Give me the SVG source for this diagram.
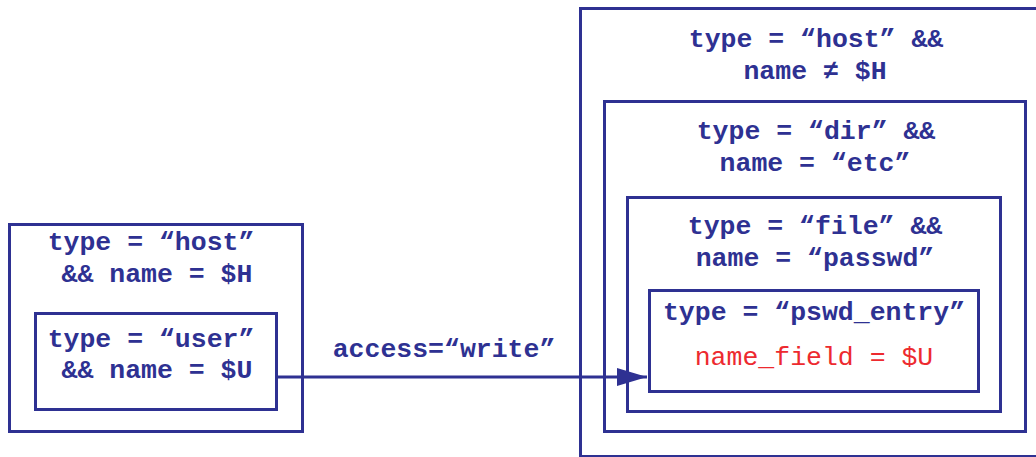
<svg xmlns="http://www.w3.org/2000/svg" width="1036" height="457" viewBox="0 0 1036 457">
  <style>
    .box { fill: none; stroke: #2e3192; stroke-width: 3; }
    .lbl { font-family: "Liberation Mono", "Courier New", monospace; font-size: 26.5px; font-weight: bold; fill: #2e3192; text-anchor: middle; }
    .red { font-family: "Liberation Mono", "Courier New", monospace; font-size: 26.5px; fill: #ed2a2f; text-anchor: middle; }
    .edge { fill: none; stroke: #2e3192; stroke-width: 3; }
  </style>
  <defs>
    <marker id="arrow" markerUnits="userSpaceOnUse" markerWidth="32" markerHeight="20" refX="30" refY="9" orient="auto">
      <path d="M0,0 L30,9 L0,18 Z" fill="#2e3192"/>
    </marker>
  </defs>
  <rect width="1036" height="457" fill="#ffffff"/>

  <!-- host holding the user -->
  <g id="host-left">
    <rect class="box" x="9.5" y="224.5" width="293" height="207"/>
    <text class="lbl" x="151" y="250">type = “host”</text>
    <text class="lbl" x="157" y="282">&amp;&amp; name = $H</text>
  </g>
  <g id="user">
    <rect class="box" x="35.5" y="313.5" width="241" height="96"/>
    <text class="lbl" x="151" y="347">type = “user”</text>
    <text class="lbl" x="157" y="378">&amp;&amp; name = $U</text>
  </g>

  <!-- remote host, nested down to the password entry -->
  <g id="host-right">
    <rect class="box" x="580.5" y="8.5" width="470" height="448"/>
    <text class="lbl" x="816" y="47">type = “host” &amp;&amp;</text>
    <text class="lbl" x="815" y="79">name ≠ $H</text>
  </g>
  <g id="dir">
    <rect class="box" x="604.5" y="101.5" width="421" height="330"/>
    <text class="lbl" x="816" y="139">type = “dir” &amp;&amp;</text>
    <text class="lbl" x="815" y="171">name = “etc”</text>
  </g>
  <g id="file">
    <rect class="box" x="627.5" y="197.5" width="373" height="214"/>
    <text class="lbl" x="815" y="234">type = “file” &amp;&amp;</text>
    <text class="lbl" x="815" y="266">name = “passwd”</text>
  </g>
  <g id="pswd-entry">
    <rect class="box" x="649.5" y="290.5" width="329" height="101"/>
    <text class="lbl" x="814" y="320">type = “pswd_entry”</text>
    <text class="red" x="814" y="365">name_field = $U</text>
  </g>

  <g id="connectors">
    <line class="edge" x1="277" y1="377" x2="647" y2="377" marker-end="url(#arrow)"/>
    <text class="lbl" x="444" y="357">access=“write”</text>
  </g>
</svg>
